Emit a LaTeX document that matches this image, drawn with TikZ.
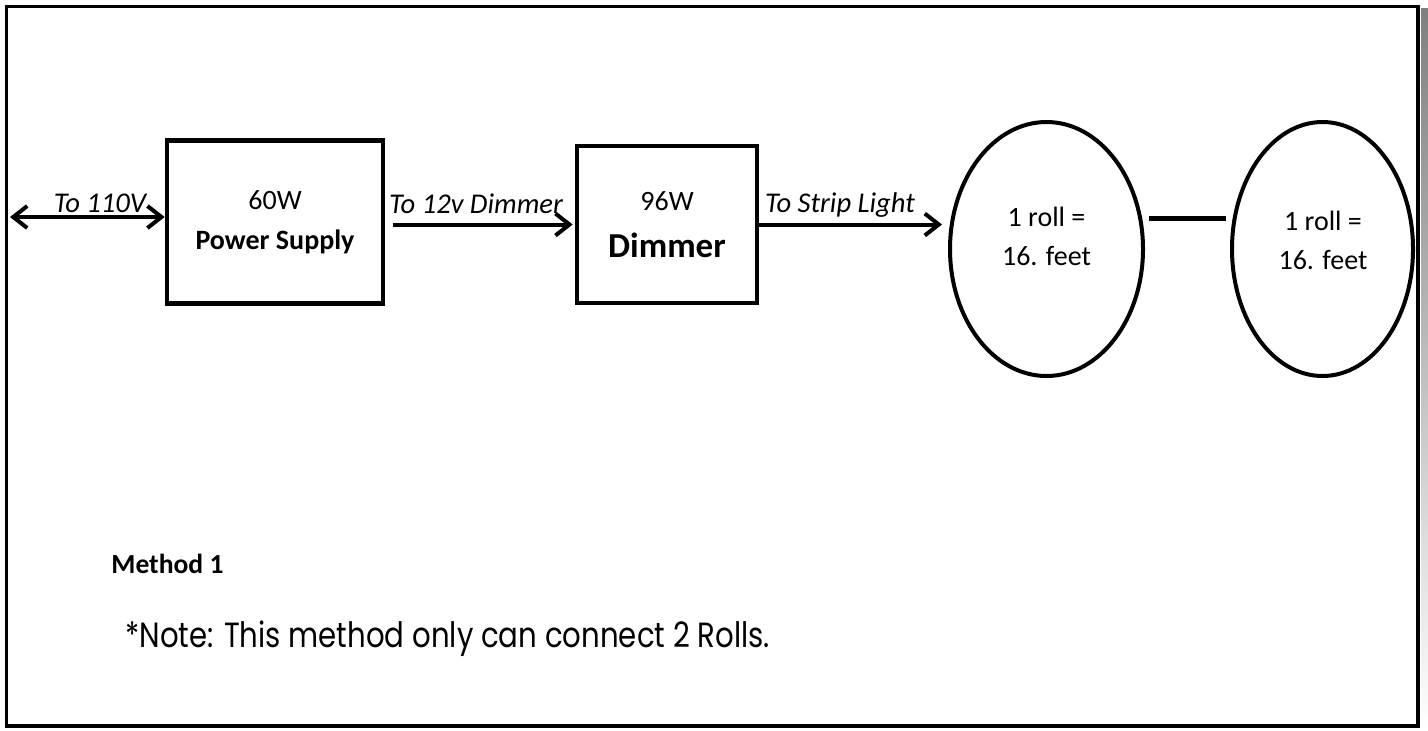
\documentclass[tikz,border=0pt]{standalone}
\usepackage{fontspec}
\setmainfont{Carlito}
\newfontfamily\gothic{Poppins}
\usetikzlibrary{arrows.meta, shapes.geometric}
\definecolor{shade}{RGB}{190, 190, 190}

\begin{document}
\begin{tikzpicture}[x=0.5pt, y=-0.5pt,
	unit/.style={draw, line width=2.3pt, inner sep=0pt, align=center},
	roll/.style={ellipse, draw, line width=2pt, inner sep=0pt, minimum height=127pt},
	wire/.style={line width=2pt, -{Straight Barb[length=7pt, width=11pt, line width=2pt]}},
	tag/.style={font=\fontsize{14.3}{16}\selectfont\itshape, inner sep=0pt, anchor=base}]
	\useasboundingbox (0,0) rectangle (1428,730);
	% frame
	\fill[shade] (1421,8) rectangle (1428,730);
	\draw[line width=1.6pt] (6.5,6.5) rectangle (1418,726);

	\node[unit, minimum width=108pt, minimum height=81.5pt, font=\fontsize{14}{20}\selectfont] (psu) at (275,222) {60W\\{\bfseries Power Supply}};
	\node[unit, minimum width=90pt, minimum height=78.5pt, font=\fontsize{14}{23.5}\selectfont] (dim) at (667,224.5) {96W\\{\bfseries\fontsize{17.5}{23.5}\selectfont Dimmer}};
	\node[roll, minimum width=96.5pt] (r1) at (1046.5,249) {};
	\node[roll, minimum width=90.5pt] (r2) at (1322.5,249) {};
	\node[align=center, inner sep=0pt, font=\fontsize{14}{19.5}\selectfont] (r1txt) at (1046.5,236) {1 roll =\\16. feet};
	\node[align=center, inner sep=0pt, font=\fontsize{14}{19.5}\selectfont] (r2txt) at (1323,240) {1 roll =\\16. feet};
	\coordinate (mains) at (10,217);

	% to 110V
	\draw[wire, {Straight Barb[length=7pt, width=11pt, line width=2pt]}-{Straight Barb[length=7pt, width=11pt, line width=2pt]}](mains) -- (mains -| psu.west);
	\node[tag] (l110) at (100,212) {To 110V};
	% to dimmer
	\draw[wire, shorten <=4pt, shorten >=1pt](psu.east |- dim.west) -- (dim.west);
	\node[tag] (ldim) at (476,213) {To 12v Dimmer};
	% to strip light
	\draw[wire, shorten >=3pt](dim.east) -- (dim.east -| r1.west);
	\node[tag] (lstrip) at (840,212) {To Strip Light};
	% roll to roll
	\draw[line width=2.5pt, shorten <=2pt, shorten >=2pt]([yshift=15.5pt]r1.east) -- ([yshift=15.5pt]r2.west);

	\node[anchor=base west, inner sep=0pt, font=\fontsize{13.8}{16}\selectfont\bfseries] (method) at (111,573) {Method 1};
	\node[anchor=base west, inner sep=0pt, font=\gothic\fontsize{17.5}{20}\selectfont] (note) at (125,647) {\scalebox{0.834}[1]{*Note: This method only can connect 2 Rolls.}};
\end{tikzpicture}
\end{document}
